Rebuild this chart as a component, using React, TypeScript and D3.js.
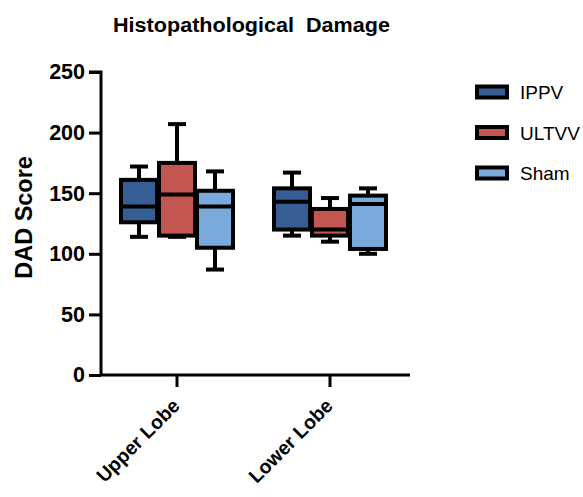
import { useRef, useEffect } from 'react';
import * as d3 from 'd3';

const categories = ['Upper Lobe', 'Lower Lobe'];
const groups = ['IPPV', 'ULTVV', 'Sham'];
const colors = ['#375e94', '#c35651', '#7aaadb'];
// [min, q1, median, q3, max] per category, per group
const ippv = [[114, 126, 139, 161, 172], [115, 120, 143, 154, 167]];
const ultvv = [[114, 115, 149, 175, 207], [110, 115, 120, 137, 146]];
const sham = [[87, 105, 139, 152, 168], [100, 104, 141, 148, 154]];
const yTicks = [0, 50, 100, 150, 200, 250];

export default function App() {
  const svgRef = useRef(null);

  useEffect(() => {
    const w = 583;
    const h = 497;
    const svg = d3.select(svgRef.current)
      .attr('width', w)
      .attr('height', h)
      .style('position', 'absolute')
      .style('left', 0)
      .style('top', 0)
      .style('font-family', 'Liberation Sans, Arial, sans-serif');
    svg.selectAll('*').remove();

    const series = [ippv, ultvv, sham];

    const yScale = d3.scaleLinear().domain([0, 250]).range([375, 72]);
    const xScale = d3.scalePoint().domain(categories).range([177, 330]);
    const offset = d3.scalePoint().domain(groups).range([-38, 38]);
    const boxW = 36;

    // title
    svg.append('text')
      .attr('x', 113)
      .attr('y', 32)
      .attr('font-size', 19.5)
      .attr('font-weight', 'bold')
      .attr('textLength', 277)
      .attr('lengthAdjust', 'spacingAndGlyphs')
      .style('white-space', 'pre')
      .text('Histopathological  Damage');

    // y axis
    const yAxis = d3.axisLeft(yScale).tickValues(yTicks).tickSize(12).tickPadding(4);
    const gy = svg.append('g').attr('transform', 'translate(101,0)').call(yAxis);
    gy.select('.domain').attr('stroke-width', 3).attr('d', `M-12,${yScale(250)}H0V${yScale(0)}`);
    gy.selectAll('.tick line').attr('stroke-width', 3);
    gy.selectAll('.tick text')
      .attr('font-size', 21.5)
      .attr('font-weight', 'bold')
      .attr('font-family', 'Liberation Sans, Arial, sans-serif')
      .attr('fill', '#000');

    svg.append('text')
      .attr('transform', `translate(32,${yScale(130)}) rotate(-90)`)
      .attr('text-anchor', 'middle')
      .attr('font-size', 23.5)
      .attr('font-weight', 'bold')
      .text('DAD Score');

    // x axis
    svg.append('line')
      .attr('x1', 100).attr('x2', 410)
      .attr('y1', yScale(0)).attr('y2', yScale(0))
      .attr('stroke', '#000').attr('stroke-width', 3);
    categories.forEach(c => {
      svg.append('line')
        .attr('x1', xScale(c)).attr('x2', xScale(c))
        .attr('y1', yScale(0)).attr('y2', yScale(0) + 12)
        .attr('stroke', '#000').attr('stroke-width', 3);
      svg.append('text')
        .attr('transform', `translate(${xScale(c) + 4},${yScale(0) + 32}) rotate(-45)`)
        .attr('text-anchor', 'end')
        .attr('font-size', 19.5)
        .attr('font-weight', 'bold')
        .text(c);
    });

    // boxes
    series.forEach((s, gi) => {
      s.forEach((d, ci) => {
        const cx = xScale(categories[ci]) + offset(groups[gi]);
        const [mn, q1, md, q3, mx] = d;
        const g = svg.append('g');
        g.append('line')
          .attr('x1', cx).attr('x2', cx)
          .attr('y1', yScale(mx)).attr('y2', yScale(q3))
          .attr('stroke', '#000').attr('stroke-width', 4);
        g.append('line')
          .attr('x1', cx).attr('x2', cx)
          .attr('y1', yScale(q1)).attr('y2', yScale(mn))
          .attr('stroke', '#000').attr('stroke-width', 4);
        [mn, mx].forEach(v => {
          g.append('line')
            .attr('x1', cx - 9).attr('x2', cx + 9)
            .attr('y1', yScale(v)).attr('y2', yScale(v))
            .attr('stroke', '#000').attr('stroke-width', 4);
        });
        g.append('rect')
          .attr('x', cx - boxW / 2)
          .attr('y', yScale(q3))
          .attr('width', boxW)
          .attr('height', yScale(q1) - yScale(q3))
          .attr('fill', colors[gi])
          .attr('stroke', '#000')
          .attr('stroke-width', 4);
        g.append('line')
          .attr('x1', cx - boxW / 2).attr('x2', cx + boxW / 2)
          .attr('y1', yScale(md)).attr('y2', yScale(md))
          .attr('stroke', '#000').attr('stroke-width', 4);
      });
    });

    // legend
    groups.forEach((gname, i) => {
      const ly = 92 + i * 40.5;
      svg.append('rect')
        .attr('x', 477).attr('y', ly - 5.5)
        .attr('width', 30).attr('height', 11)
        .attr('fill', colors[i])
        .attr('stroke', '#000').attr('stroke-width', 4);
      svg.append('text')
        .attr('x', 520).attr('y', ly + 7)
        .attr('font-size', 19)
        .text(gname);
    });
  }, []);

  return <svg ref={svgRef}></svg>;
}
